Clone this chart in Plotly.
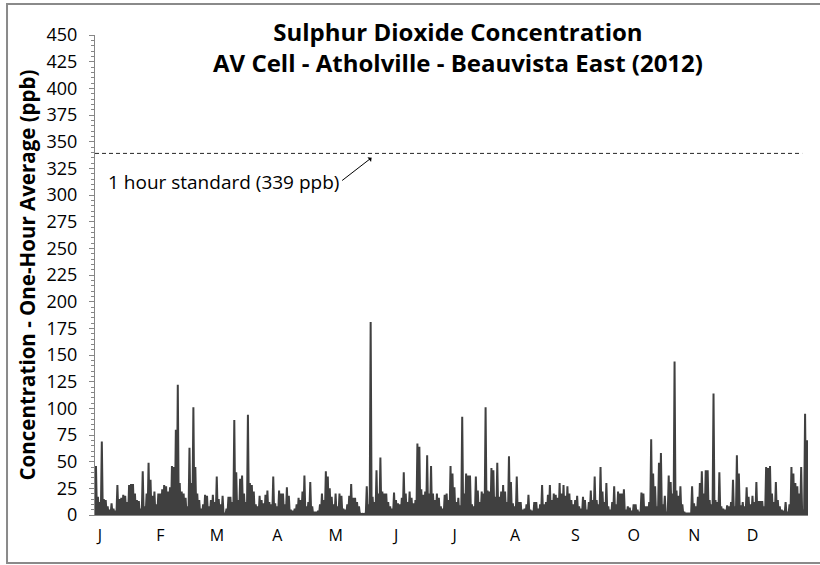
import pandas as pd
import plotly.graph_objects as go

# Daily peak one-hour SO2 concentration (ppb), per month of 2012
jan_peaks = [46, 17, 12, 69, 15, 14, 8, 5, 11, 6, 4, 28, 15, 16, 19, 18, 12, 28, 29, 29,
             20, 14, 13, 6, 41, 8, 20, 49, 33, 18, 22]
feb_peaks = [10, 20, 20, 24, 28, 27, 22, 26, 46, 45, 80, 122, 30, 22, 20, 16, 8, 63, 30, 101,
             45, 20, 14, 6, 10, 19, 18, 8, 14]
mar_peaks = [19, 12, 36, 15, 10, 18, 2, 6, 17, 17, 12, 89, 40, 14, 34, 37, 20, 12, 94, 30,
             28, 22, 10, 8, 18, 14, 11, 19, 23, 12, 10]
apr_peaks = [36, 11, 8, 23, 20, 20, 10, 26, 18, 5, 4, 6, 10, 16, 14, 22, 37, 8, 12, 31,
             8, 3, 3, 4, 10, 20, 14, 41, 36, 25]
may_peaks = [17, 10, 20, 8, 20, 18, 6, 5, 10, 18, 29, 16, 16, 12, 8, 1, 1, 1, 27, 10,
             181, 17, 12, 42, 20, 54, 22, 20, 20, 12, 8]
jun_peaks = [6, 21, 14, 11, 10, 16, 40, 20, 12, 22, 16, 11, 14, 67, 64, 24, 19, 22, 56, 20,
             46, 20, 14, 20, 16, 8, 6, 19, 20, 14]
jul_peaks = [46, 39, 26, 12, 16, 9, 92, 20, 39, 37, 37, 10, 8, 36, 23, 12, 22, 20, 101, 23,
             22, 44, 42, 17, 49, 17, 22, 28, 22, 12, 55]
aug_peaks = [31, 11, 8, 36, 12, 12, 5, 6, 10, 19, 5, 4, 12, 12, 6, 10, 28, 10, 12, 19,
             28, 14, 20, 19, 16, 30, 20, 28, 18, 27, 20]
sep_peaks = [14, 10, 14, 18, 8, 6, 17, 14, 5, 12, 23, 14, 36, 14, 10, 45, 22, 12, 30, 8,
             5, 12, 27, 10, 22, 20, 20, 24, 5, 8]
oct_peaks = [7, 4, 10, 10, 5, 3, 21, 20, 8, 8, 12, 71, 39, 27, 8, 49, 58, 10, 18, 3,
             37, 31, 20, 144, 23, 18, 27, 10, 3, 2, 2]
nov_peaks = [2, 27, 11, 8, 17, 30, 41, 20, 42, 42, 14, 10, 114, 14, 12, 40, 8, 6, 5, 9,
             8, 12, 33, 8, 56, 39, 9, 12, 8, 26]
dec_peaks = [17, 10, 18, 12, 31, 13, 13, 13, 8, 45, 44, 46, 20, 12, 31, 14, 8, 5, 4, 12,
             3, 10, 45, 39, 30, 27, 20, 45, 5, 95, 70]

overnight_low = 0  # lowest one-hour reading between daily peaks (ppb)
standard_ppb = 339

month_ticks = ["J", "F", "M", "A", "M", "J", "J", "A", "S", "O", "N", "D"]
title_text = "<b>Sulphur Dioxide Concentration<br>AV Cell - Atholville - Beauvista East (2012)</b>"
y_title = "<b>Concentration - One-Hour Average (ppb)</b>"
standard_label = "1 hour standard (339 ppb)"

daily_peaks = (jan_peaks + feb_peaks + mar_peaks + apr_peaks + may_peaks + jun_peaks +
               jul_peaks + aug_peaks + sep_peaks + oct_peaks + nov_peaks + dec_peaks)
days = pd.date_range("2012-01-01", periods=len(daily_peaks), freq="D")

xs, ys = [], []
for day, peak in zip(days, daily_peaks):
    xs.append(day)
    ys.append(overnight_low)
    xs.append(day + pd.Timedelta(hours=12))
    ys.append(peak)
xs.append(days[-1] + pd.Timedelta(hours=23))
ys.append(overnight_low)

FONT = "Open Sans"
fig = go.Figure()
fig.add_trace(go.Scatter(x=xs, y=ys, mode="lines",
                         line=dict(color="#404040", width=2), hoverinfo="skip"))
fig.add_trace(go.Scatter(x=[days[0], pd.Timestamp("2012-12-29")],
                         y=[standard_ppb, standard_ppb], mode="lines",
                         line=dict(color="#262626", width=1, dash="4px,3px")))

month_starts = pd.date_range("2012-01-01", periods=12, freq="MS")

fig.update_layout(
    width=820, height=565, showlegend=False,
    margin=dict(l=95, r=12, t=35, b=50, autoexpand=False),
    paper_bgcolor="white", plot_bgcolor="white",
    font=dict(family=FONT, color="#000000"),
    xaxis=dict(range=[days[0], days[-1] + pd.Timedelta(days=1)], automargin=False,
               tickvals=month_starts, ticktext=month_ticks,
               ticks="", showgrid=False, zeroline=False,
               showline=True, linecolor="#868686", linewidth=1,
               tickfont=dict(size=16, family=FONT, color="#000"),
               ticklabelstandoff=6, ticklabelshift=5),
    yaxis=dict(range=[0, 450], tickvals=list(range(0, 451, 25)), automargin=False,
               ticks="outside", ticklen=5, tickcolor="#868686",
               showgrid=False, zeroline=False,
               showline=True, linecolor="#868686", linewidth=1,
               tickfont=dict(size=18, family=FONT, color="#000"),
               ticklabelstandoff=8,
               minor=dict(dtick=5, ticks="outside", ticklen=3, tickcolor="#868686"),
               title=dict(text=y_title, font=dict(size=20.5, family=FONT, color="#000"),
                          standoff=5)),
    shapes=[dict(type="rect", xref="paper", yref="paper",
                 x0=-0.1234, x1=1.05, y0=-0.1, y1=1.0646,
                 line=dict(color="#8a8a8a", width=2), fillcolor="rgba(0,0,0,0)",
                 layer="below")],
    annotations=[
        dict(text=title_text, xref="paper", yref="paper", x=0.509, y=0.974,
             xanchor="center", yanchor="middle", showarrow=False,
             font=dict(size=24, family=FONT, color="#000")),
        dict(text=standard_label, xref="paper", x=0.016, yref="y", y=312,
             xanchor="left", yanchor="middle", showarrow=False,
             font=dict(size=19, family=FONT, color="#000")),
        dict(text="", x=pd.Timestamp("2012-05-22"), y=335, ax=-31, ay=24,
             showarrow=True, arrowhead=1, arrowsize=1, arrowwidth=1, arrowcolor="#000"),
    ],
)

fig.write_html("out.html", config={"displayModeBar": False},
               post_script="document.body.style.margin='0px';")
